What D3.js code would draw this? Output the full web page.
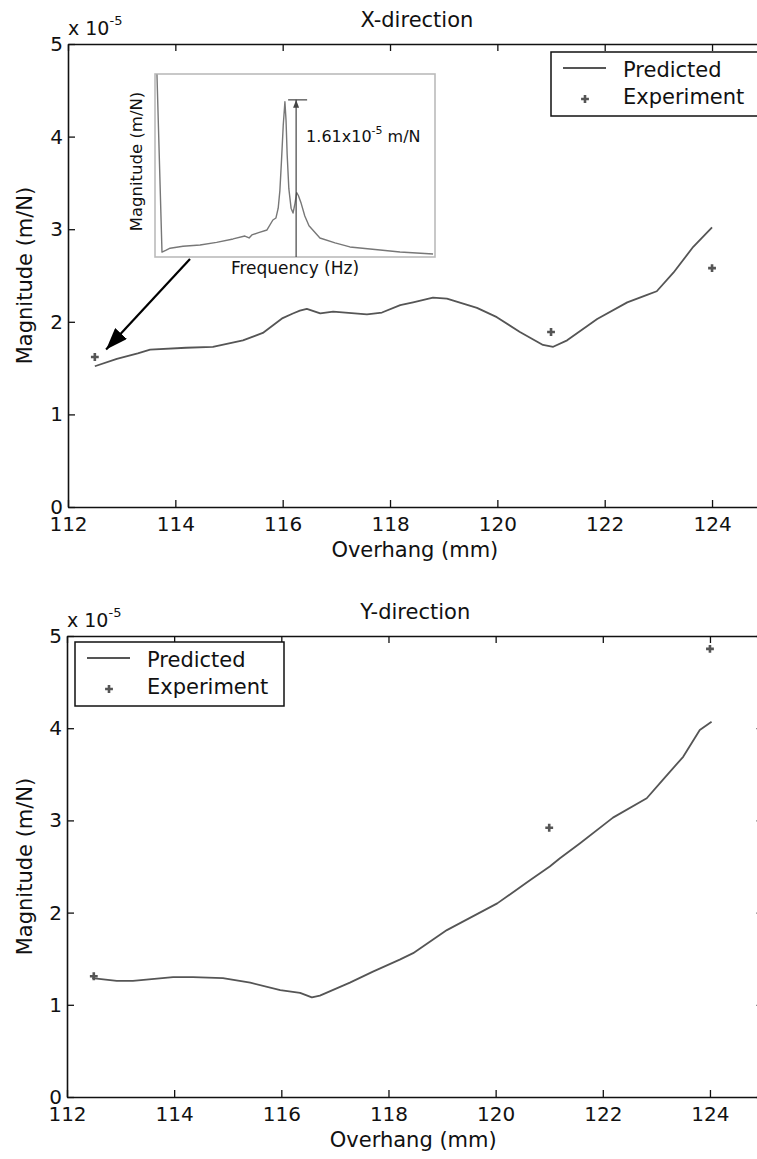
<!DOCTYPE html>
<html>
<head>
<meta charset="utf-8">
<script src="https://cdn.jsdelivr.net/npm/d3@7"></script>
<style>
  body { margin: 0; background: #fff; }
  svg { display: block; }
  text { font-family: "DejaVu Sans", sans-serif; fill: #111; }
</style>
</head>
<body>
<div id="chart"></div>
<script>
// ---- data (magnitudes in units of 1e-5 m/N) ----
const xTicks = [112, 114, 116, 118, 120, 122, 124];
const yTicks = [0, 1, 2, 3, 4, 5];

// X-direction, predicted curve
const xPredOverhang = [112.5, 112.91, 113.3, 113.53, 114.2, 114.7, 115.26, 115.63, 116.0, 116.19, 116.32, 116.45, 116.7, 116.94, 117.57, 117.85, 118.19, 118.43, 118.8, 119.06, 119.62, 119.99, 120.42, 120.85, 121.04, 121.3, 121.86, 122.42, 122.79, 122.97, 123.28, 123.65, 124.0];
const xPredMag = [1.52, 1.60, 1.66, 1.70, 1.72, 1.73, 1.80, 1.88, 2.04, 2.09, 2.12, 2.14, 2.09, 2.11, 2.08, 2.10, 2.18, 2.21, 2.26, 2.25, 2.15, 2.05, 1.89, 1.75, 1.73, 1.80, 2.03, 2.21, 2.29, 2.33, 2.53, 2.81, 3.02];
// X-direction, experiment
const xExpOverhang = [112.5, 121, 124];
const xExpMag = [1.62, 1.89, 2.58];

// Y-direction, predicted curve
const yPredOverhang = [112.47, 112.93, 113.23, 113.98, 114.35, 114.91, 115.42, 115.98, 116.35, 116.57, 116.72, 117.28, 117.71, 118.21, 118.46, 119.09, 120.03, 120.64, 121.01, 121.2, 121.57, 122.19, 122.82, 123.12, 123.5, 123.81, 124.03];
const yPredMag = [1.29, 1.26, 1.26, 1.30, 1.30, 1.29, 1.24, 1.16, 1.13, 1.08, 1.10, 1.24, 1.36, 1.49, 1.56, 1.81, 2.10, 2.35, 2.50, 2.59, 2.75, 3.03, 3.24, 3.44, 3.69, 3.98, 4.07];
// Y-direction, experiment
const yExpOverhang = [112.5, 121, 124];
const yExpMag = [1.31, 2.92, 4.86];

// inset FRF (frequency response at 112.5 mm)
const insetFreq = [7, 25, 40, 54, 100, 161, 220, 279, 321, 336, 346, 370, 400, 421, 432, 440, 446, 452, 458, 464, 468, 472, 478, 486, 493, 500, 506, 512, 522, 535, 550, 589, 643, 696, 804, 875, 993];
const insetMag = [1.87, 0.05, 0.07, 0.09, 0.11, 0.123, 0.15, 0.185, 0.215, 0.195, 0.226, 0.25, 0.277, 0.379, 0.40, 0.50, 0.68, 1.0, 1.35, 1.59, 1.40, 1.05, 0.70, 0.50, 0.45, 0.55, 0.66, 0.63, 0.55, 0.42, 0.32, 0.195, 0.144, 0.103, 0.072, 0.051, 0.031];
const insetPeakFreq = 504;
const insetPeakMag = 1.61;

// ---- layout ----
const width = 757;
const height = 1159;
const lineColor = "#555";

const svg = d3.select("#chart")
    .append("svg")
    .attr("width", width)
    .attr("height", height);

// arrow heads
const defs = svg.append("defs");
defs.append("marker")
    .attr("id", "bigHead")
    .attr("markerUnits", "userSpaceOnUse")
    .attr("viewBox", "0 0 22 16")
    .attr("refX", 22).attr("refY", 8)
    .attr("markerWidth", 22).attr("markerHeight", 16)
    .attr("orient", "auto")
    .append("path").attr("d", "M0,0 L22,8 L0,16 Z").attr("fill", "#000");
defs.append("marker")
    .attr("id", "smallHead")
    .attr("markerUnits", "userSpaceOnUse")
    .attr("viewBox", "0 0 8 6")
    .attr("refX", 8).attr("refY", 3)
    .attr("markerWidth", 8).attr("markerHeight", 6)
    .attr("orient", "auto")
    .append("path").attr("d", "M0,0 L8,3 L0,6 Z").attr("fill", "#444");

function drawPanel(opt) {
    const x = d3.scaleLinear().domain([112, 125]).range([opt.left, opt.left + 13 * opt.pxPerMm]);
    const y = d3.scaleLinear().domain([0, 5]).range([opt.bottom, opt.top]);
    const g = svg.append("g");

    // axes, ticks inside like matlab
    const axStyle = sel => {
        sel.select(".domain").attr("stroke", "#111").attr("stroke-width", 1.6);
        sel.selectAll(".tick line").attr("stroke", "#111").attr("stroke-width", 1.3);
        sel.selectAll(".tick text").style("font-size", "20px").attr("fill", "#111");
    };
    g.append("g").attr("transform", `translate(0,${opt.bottom})`)
        .call(d3.axisBottom(x).tickValues(xTicks).tickSizeInner(-7).tickSizeOuter(0).tickPadding(10).tickFormat(d3.format("d")))
        .call(axStyle);
    g.append("g").attr("transform", `translate(0,${opt.top})`)
        .call(d3.axisTop(x).tickValues(xTicks).tickSizeInner(-7).tickSizeOuter(0).tickFormat(""))
        .call(axStyle);
    g.append("g").attr("transform", `translate(${opt.left},0)`)
        .call(d3.axisLeft(y).tickValues(yTicks).tickSizeInner(-7).tickSizeOuter(0).tickPadding(5).tickFormat(d3.format("d")))
        .call(axStyle);
    g.append("g").attr("transform", `translate(${x(125)},0)`)
        .call(d3.axisRight(y).tickValues(yTicks).tickSizeInner(-7).tickSizeOuter(0).tickFormat(""))
        .call(axStyle);
    // let the css font apply to the tick labels
    g.selectAll("g").attr("font-family", null);

    // exponent label
    const ex = g.append("text").attr("x", opt.left).attr("y", opt.top - 9).style("font-size", "19px");
    ex.append("tspan").text("x 10");
    ex.append("tspan").attr("dy", -10).style("font-size", "13px").text("-5");

    // title + axis labels
    const cx = (x(112) + x(125)) / 2;
    g.append("text").attr("x", cx).attr("y", opt.top - 17).attr("text-anchor", "middle")
        .style("font-size", "21px").text(opt.title);
    g.append("text").attr("x", cx - 2).attr("y", opt.bottom + 50).attr("text-anchor", "middle")
        .style("font-size", "21px").text("Overhang (mm)");
    g.append("text")
        .attr("transform", `translate(32,${(opt.top + opt.bottom) / 2}) rotate(-90)`)
        .attr("text-anchor", "middle").style("font-size", "21px").text("Magnitude (m/N)");

    // predicted curve
    const line = d3.line().x(d => x(d[0])).y(d => y(d[1]));
    g.append("path")
        .datum(d3.zip(opt.predX, opt.predY))
        .attr("fill", "none").attr("stroke", lineColor).attr("stroke-width", 1.8)
        .attr("stroke-linejoin", "round")
        .attr("d", line);

    // experiment markers
    const cross = d3.symbol().type(d3.symbolCross).size(34);
    g.selectAll(".exp")
        .data(d3.zip(opt.expX, opt.expY))
        .enter().append("path")
        .attr("class", "exp")
        .attr("transform", d => `translate(${x(d[0])},${y(d[1])})`)
        .attr("d", cross).attr("fill", lineColor);

    // legend
    const lg = g.append("g").attr("transform", `translate(${opt.legendX},${opt.legendY})`);
    lg.append("rect").attr("width", 209).attr("height", 64)
        .attr("fill", "#fff").attr("stroke", "#111").attr("stroke-width", 1.5);
    lg.append("line").attr("x1", 12).attr("x2", 55).attr("y1", 16).attr("y2", 16)
        .attr("stroke", lineColor).attr("stroke-width", 1.8);
    lg.append("path").attr("transform", "translate(34,47)").attr("d", cross).attr("fill", lineColor);
    lg.append("text").attr("x", 72).attr("y", 25).style("font-size", "21px").text("Predicted");
    lg.append("text").attr("x", 72).attr("y", 52).style("font-size", "21px").text("Experiment");

    return { x, y, g };
}

const topPanel = drawPanel({
    title: "X-direction", left: 68, top: 44, bottom: 507, pxPerMm: 53.67,
    predX: xPredOverhang, predY: xPredMag, expX: xExpOverhang, expY: xExpMag,
    legendX: 551, legendY: 52
});
drawPanel({
    title: "Y-direction", left: 67, top: 636, bottom: 1097, pxPerMm: 53.58,
    predX: yPredOverhang, predY: yPredMag, expX: yExpOverhang, expY: yExpMag,
    legendX: 75, legendY: 642
});

// ---- inset FRF in the X-direction panel ----
const inset = { x: 155, y: 74, w: 280, h: 183 };
const fx = d3.scaleLinear().domain([0, 1000]).range([inset.x, inset.x + inset.w]);
const fy = d3.scaleLinear().domain([0, 1.875]).range([inset.y + inset.h, inset.y]);
const ig = svg.append("g");
ig.append("rect").attr("x", inset.x).attr("y", inset.y).attr("width", inset.w).attr("height", inset.h)
    .attr("fill", "#fff").attr("stroke", "#bbb").attr("stroke-width", 1.6);
ig.append("path")
    .datum(d3.zip(insetFreq, insetMag))
    .attr("fill", "none").attr("stroke", "#777").attr("stroke-width", 1.4)
    .attr("stroke-linejoin", "round")
    .attr("d", d3.line().x(d => fx(d[0])).y(d => fy(d[1])));

// peak height annotation
ig.append("line")
    .attr("x1", fx(insetPeakFreq)).attr("x2", fx(insetPeakFreq))
    .attr("y1", fy(0)).attr("y2", fy(insetPeakMag))
    .attr("stroke", "#444").attr("stroke-width", 1.2)
    .attr("marker-end", "url(#smallHead)");
ig.append("line")
    .attr("x1", fx(insetPeakFreq) - 8).attr("x2", fx(insetPeakFreq) + 11)
    .attr("y1", fy(insetPeakMag)).attr("y2", fy(insetPeakMag))
    .attr("stroke", "#444").attr("stroke-width", 1.2);
const ann = ig.append("text").attr("x", fx(insetPeakFreq) + 10).attr("y", 142).style("font-size", "16px");
ann.append("tspan").text("1.61x10");
ann.append("tspan").attr("dy", -8).style("font-size", "11px").text("-5");
ann.append("tspan").attr("dy", 8).text(" m/N");

ig.append("text").attr("x", fx(500)).attr("y", inset.y + inset.h + 17)
    .attr("text-anchor", "middle").style("font-size", "17px").text("Frequency (Hz)");
ig.append("text")
    .attr("transform", `translate(142,${inset.y + inset.h / 2 - 4}) rotate(-90)`)
    .attr("text-anchor", "middle").style("font-size", "16.5px").text("Magnitude (m/N)");

// arrow from the inset to the first measured point
svg.append("line")
    .attr("x1", fx(125)).attr("y1", fy(0) + 2)
    .attr("x2", topPanel.x(112.71)).attr("y2", topPanel.y(1.70))
    .attr("stroke", "#000").attr("stroke-width", 2.2)
    .attr("marker-end", "url(#bigHead)");
</script>
</body>
</html>
